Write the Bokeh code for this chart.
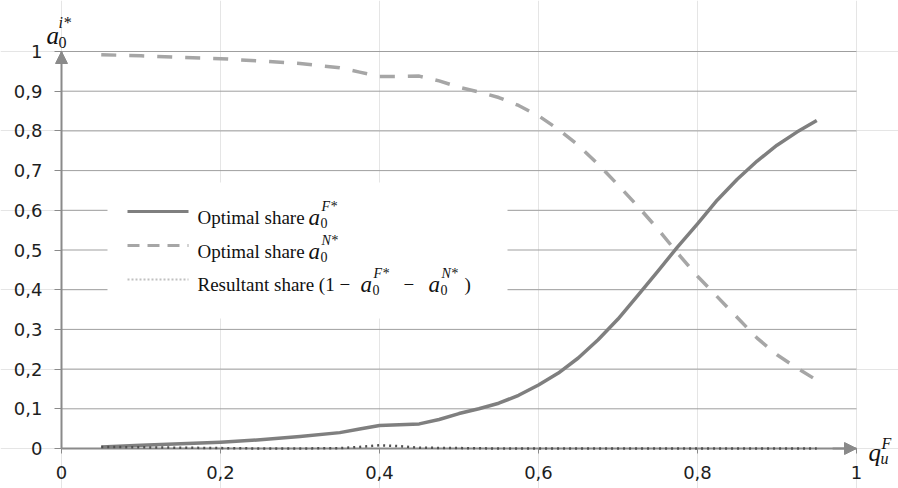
from bokeh.plotting import figure
from bokeh.models import Range1d, LinearAxis, FixedTicker, Label, Arrow, NormalHead
from bokeh.embed import file_html
from bokeh.resources import INLINE

# Fraction q_u^F on the horizontal axis
q = [0.05, 0.10, 0.15, 0.20, 0.25, 0.30, 0.35,
     0.375, 0.40, 0.425, 0.45, 0.475, 0.50, 0.525, 0.55, 0.575, 0.60,
     0.625, 0.65, 0.675, 0.70, 0.725, 0.75, 0.775, 0.80, 0.825, 0.85,
     0.875, 0.90, 0.925, 0.95]
# Optimal share a_0^{F*}
share_f = [0.004, 0.008, 0.012, 0.016, 0.022, 0.030, 0.040,
           0.049, 0.058, 0.060, 0.062, 0.073, 0.088, 0.100, 0.114, 0.134, 0.160,
           0.190, 0.228, 0.274, 0.326, 0.386, 0.446, 0.508, 0.566, 0.626, 0.678,
           0.724, 0.764, 0.797, 0.826]
# Optimal share a_0^{N*}
share_n = [0.992, 0.989, 0.985, 0.982, 0.976, 0.970, 0.959,
           0.948, 0.937, 0.937, 0.938, 0.926, 0.910, 0.898, 0.884, 0.864, 0.838,
           0.804, 0.764, 0.716, 0.664, 0.610, 0.553, 0.492, 0.434, 0.382, 0.330,
           0.278, 0.236, 0.203, 0.172]
# Resultant share 1 - a_0^{F*} - a_0^{N*}
q_res = [0.05, 0.10, 0.15, 0.20, 0.25, 0.30, 0.35, 0.375, 0.40, 0.425, 0.45,
         0.50, 0.55, 0.60, 0.65, 0.70, 0.75, 0.80, 0.85, 0.90, 0.95]
share_res = [0.004, 0.003, 0.002, 0.001, 0.000, 0.000, 0.001, 0.004, 0.008, 0.006, 0.002,
             0.001, 0.000, 0.000, 0.000, 0.000, 0.000, 0.000, 0.000, 0.000, 0.000]

x_ticks = [0, 0.2, 0.4, 0.6, 0.8, 1]
x_tick_labels = ["0", "0,2", "0,4", "0,6", "0,8", "1"]
y_ticks = [0, 0.1, 0.2, 0.3, 0.4, 0.5, 0.6, 0.7, 0.8, 0.9, 1]
y_tick_labels = ["0", "0,1", "0,2", "0,3", "0,4", "0,5", "0,6", "0,7", "0,8", "0,9", "1"]

# canvas geometry: origin sits at pixel (61, 448), unit square is 795 x 397 px
W, H = 898, 488
OX, OY, SX, SY = 61.0, 448.0, 795.0, 397.0


def dx(px):
    return (px - OX) / SX


def dy(py):
    return (OY - py) / SY


p = figure(width=W, height=H,
           x_range=Range1d(dx(0), dx(W)), y_range=Range1d(dy(H), dy(0)),
           x_axis_location=None, y_axis_location=None,
           output_backend="svg", toolbar_location=None,
           min_border_left=0, min_border_right=0, min_border_top=0, min_border_bottom=0)
p.outline_line_color = None
p.background_fill_color = "white"
p.border_fill_color = "white"

GRID = "#9f9f9f"
AXIS = "#8a8a8a"
TICK_FONT = "DejaVu Sans"

# horizontal gridlines between 0 and 1
p.segment(x0=[0] * (len(y_ticks) - 1), x1=[1] * (len(y_ticks) - 1),
          y0=y_ticks[1:], y1=y_ticks[1:], line_color=GRID, line_width=1)

# axis lines (drawn under the data)
p.segment(x0=[0, 0], y0=[0, 0], x1=[1, 0], y1=[0, 1], line_color=AXIS, line_width=2)

# ticks and tick labels
xaxis = LinearAxis(ticker=FixedTicker(ticks=x_ticks), fixed_location=0, bounds=(0, 1),
                   major_label_overrides=dict(zip(x_ticks, x_tick_labels)))
yaxis = LinearAxis(ticker=FixedTicker(ticks=y_ticks), fixed_location=0, bounds=(0, 1),
                   major_label_overrides=dict(zip(y_ticks, y_tick_labels)))
for ax, tick_out in ((xaxis, 5), (yaxis, 7)):
    ax.axis_line_color = None
    ax.major_tick_line_color = AXIS
    ax.major_tick_line_width = 1
    ax.major_tick_in = 0
    ax.major_tick_out = tick_out
    ax.minor_tick_line_color = None
    ax.major_label_standoff = 12
    ax.major_label_text_font = TICK_FONT
    ax.major_label_text_font_size = "18px"
    ax.major_label_text_color = "#1e1e1e"
p.add_layout(xaxis, "below")
p.add_layout(yaxis, "left")

# arrow heads at the ends of both axes
for xs, ys, xe, ye in ((0.97, 0, 1, 0), (0, 0.97, 0, 1)):
    p.add_layout(Arrow(x_start=xs, y_start=ys, x_end=xe, y_end=ye,
                       line_color=AXIS, line_width=2,
                       end=NormalHead(size=12, fill_color=AXIS, line_color=AXIS)))

# white panel behind the legend
p.quad(left=dx(107), right=dx(507), bottom=dy(318), top=dy(182),
       fill_color="white", line_color=None)

# data series
p.line(q, share_f, line_color="#7f7f7f", line_width=3.5, line_join="round")
p.line(q, share_n, line_color="#a6a6a6", line_width=3.5, line_dash="15 13")
p.line(q_res, share_res, line_color="#505050", line_width=2.5, line_dash="2 4")

SERIF = "Liberation Serif"


def put(text, px, py, size, style="normal", color="#111111"):
    p.add_layout(Label(x=dx(px), y=dy(py), text=text, text_font=SERIF,
                       text_font_size=f"{size}px", text_font_style=style,
                       text_baseline="alphabetic", text_align="left", text_color=color))


def a0(px, base, sup, big=23, small=14):
    """italic a with subscript 0 and superscript sup"""
    put("a", px, base, big, "italic")
    put("0", px + 12, base + 5, small)
    put(sup, px + 13, base - 11, small, "italic")


# legend samples
for y_px, color, dash, width in ((211, "#7f7f7f", "solid", 3),
                                 (245, "#a6a6a6", "12 8", 3),
                                 (279, "#c0c0c0", "2 2", 2)):
    p.line([dx(127), dx(188)], [dy(y_px), dy(y_px)], line_color=color,
           line_width=width, line_dash=dash)

put("Optimal share", 197, 217, 19)
a0(308, 217, "F*")
put("Optimal share", 197, 251, 19)
a0(308, 251, "N*")
put("Resultant share (1 \u2212", 197, 284, 19)
a0(360, 284, "F*")
put("\u2212", 403, 284, 19)
a0(428, 284, "N*")
put(")", 464, 284, 19)

# axis titles
put("a", 46, 35, 25, "italic")
put("0", 58, 42, 16)
put("i*", 58, 22, 16, "italic")
put("q", 868, 452, 25, "italic")
put("u", 880, 458, 16, "italic")
put("F", 881, 443, 16, "italic")

open("out.html", "w").write(file_html(p, INLINE))
